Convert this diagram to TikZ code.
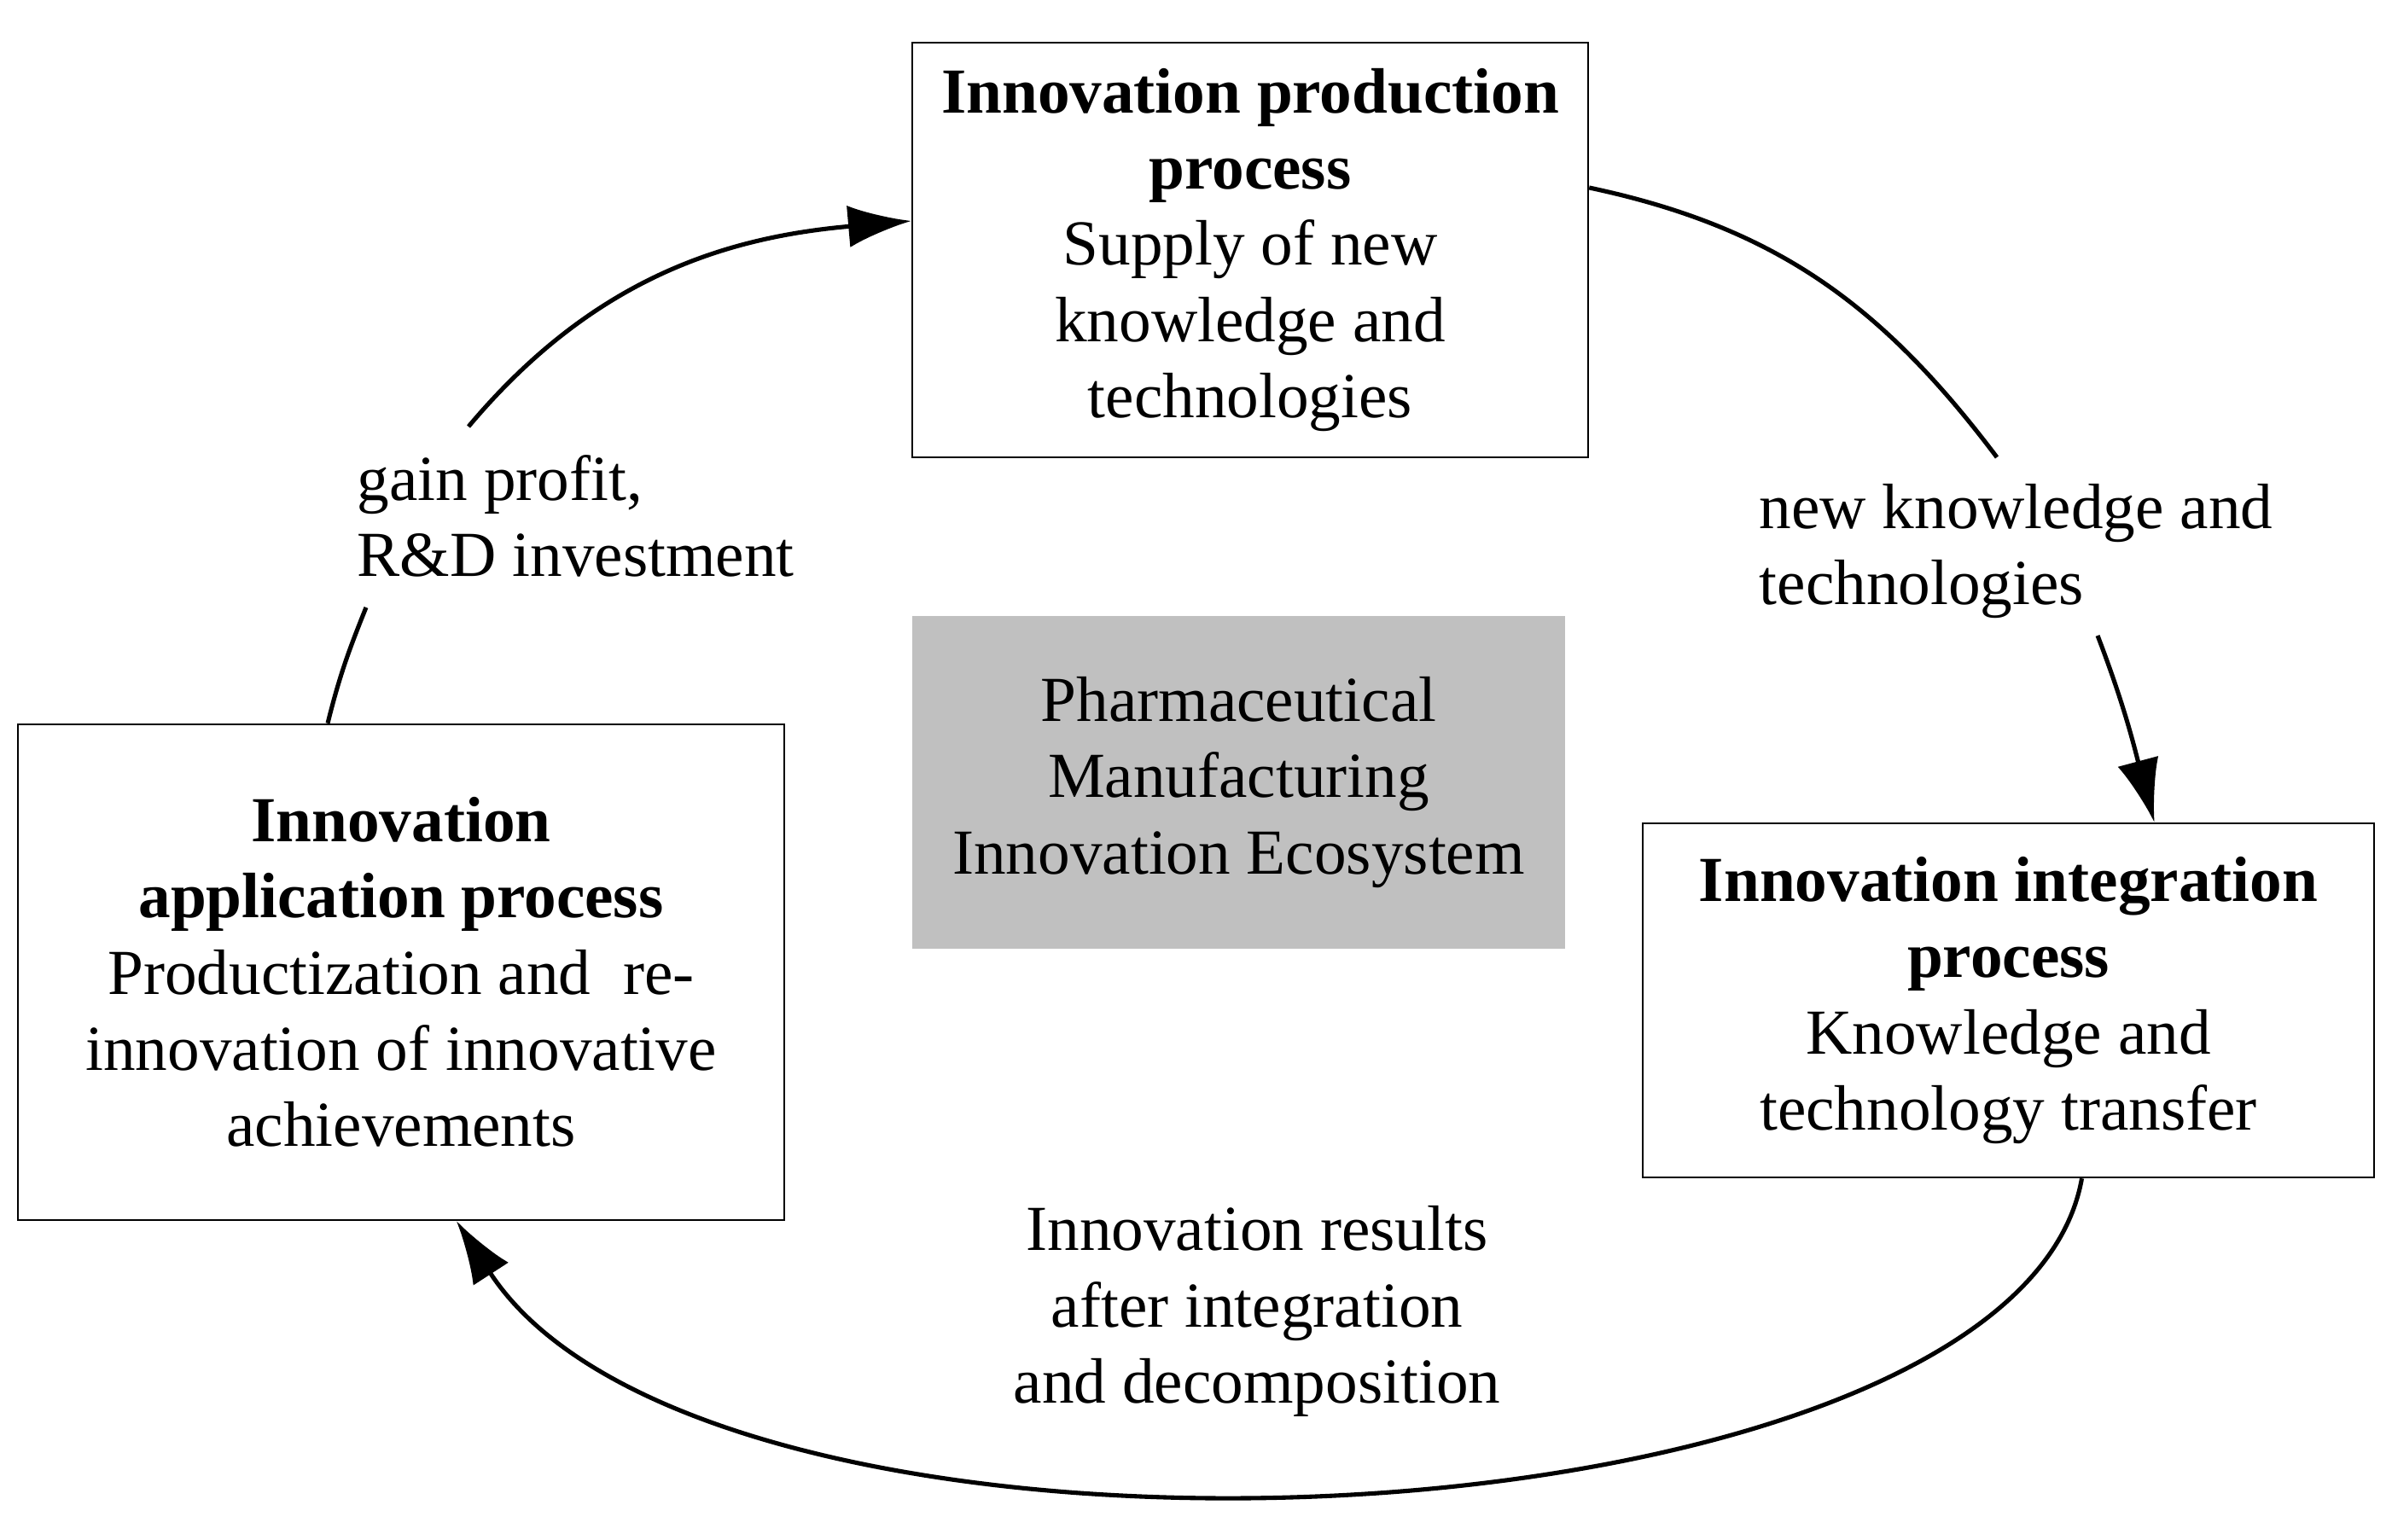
\documentclass[tikz,border=0pt]{standalone}
\usepackage{fontspec}
\setmainfont{Liberation Serif}
\usepackage{xcolor}
\usetikzlibrary{arrows.meta}
\usetikzlibrary{positioning}

\definecolor{ecogray}{RGB}{192,192,192}
\tikzset{
	procbox/.style={draw, line width=0.7pt, align=center, inner sep=0pt},
	ecobox/.style={fill=ecogray, align=center, inner sep=0pt},
	flow/.style={line width=1.45pt},
	flowtip/.style={flow, -{Latex[length=21pt,width=14pt]}},
}

\begin{document}
\begin{tikzpicture}[>=latex,font=\fontsize{21.4}{25.4}\selectfont]

			\useasboundingbox (0,0) rectangle (28.03,18.05);

			\node[procbox, minimum width=7.92cm, minimum height=4.86cm] (prod) at (14.65, 15.12) {\textbf{Innovation production}\\\textbf{process}\\Supply of new\\knowledge and\\technologies};
			\node[procbox, minimum width=8.98cm, minimum height=5.81cm] (appl) at (4.70, 6.655) {\textbf{Innovation}\\\textbf{application process}\\Productization and\ \ re-\\innovation of innovative\\achievements};
			\node[procbox, minimum width=8.57cm, minimum height=4.15cm] (integ) at (23.535, 6.325) {\textbf{Innovation integration}\\\textbf{process}\\Knowledge and\\technology transfer};
			\node[ecobox, minimum width=7.65cm, minimum height=3.90cm] (eco) at (14.515, 8.88) {Pharmaceutical\\Manufacturing\\Innovation Ecosystem};

			\node[anchor=west, align=left, inner sep=0pt] (gain) at (4.18, 12.00) {gain profit,\\R\&D investment};
			\node[anchor=west, align=left, inner sep=0pt] (newk) at (20.61, 11.59) {new knowledge and\\technologies};
			\node[align=center, inner sep=0pt] (res) at (14.73, 2.68) {Innovation results\\after integration\\and decomposition};

			\coordinate (g1a) at (4.29, 10.93);
			\coordinate (g1b) at (5.49, 13.05);
			\coordinate (g2a) at (23.40, 12.69);
			\coordinate (g2b) at (24.58, 10.60);

			\draw[flow] ([xshift=-0.86cm]appl.north) to [out=76, in=-112] (g1a);
			\draw[flowtip] (g1b) to [out=50, in=185] ([yshift=0.34cm]prod.west);
			\draw[flow] ([yshift=0.73cm]prod.east) to [out=-12, in=127] (g2a);
			\draw[flowtip] (g2b) to [out=-69, in=105] ([xshift=1.71cm]integ.north);
			\draw[flowtip] ([xshift=0.86cm]integ.south) to [out=-100, in=-57, out looseness=0.6, in looseness=0.74] ([xshift=0.65cm]appl.south);

		\end{tikzpicture}
\end{document}
